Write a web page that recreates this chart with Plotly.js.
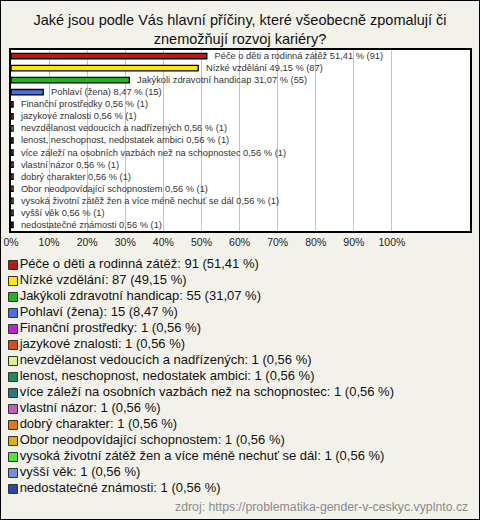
<!DOCTYPE html>
<html>
<head>
<meta charset="utf-8">
<script src="https://cdn.plot.ly/plotly-3.0.1.min.js"></script>
<style>
  html, body { margin: 0; padding: 0; background: #f3f2ea; }
  #wrap { width: 480px; height: 520px; box-sizing: border-box; border: 1px solid #000; background: #f3f2ea; }
  #chart { width: 478px; height: 518px; }
</style>
</head>
<body>
<div id="wrap"><div id="chart"></div></div>
<script>
const categories = [
  "Péče o děti a rodinná zátěž",
  "Nízké vzdělání",
  "Jakýkoli zdravotní handicap",
  "Pohlaví (žena)",
  "Finanční prostředky",
  "jazykové znalosti",
  "nevzdělanost vedoucích a nadřízených",
  "lenost, neschopnost, nedostatek ambici",
  "více záleží na osobních vazbách než na schopnostec",
  "vlastní názor",
  "dobrý charakter",
  "Obor neodpovídající schopnostem",
  "vysoká životní zátěž žen a více méně nechuť se dál",
  "vyšší věk",
  "nedostatečné známosti"
];
const counts = [91, 87, 55, 15, 1, 1, 1, 1, 1, 1, 1, 1, 1, 1, 1];
const percents = [51.41, 49.15, 31.07, 8.47, 0.56, 0.56, 0.56, 0.56, 0.56, 0.56, 0.56, 0.56, 0.56, 0.56, 0.56];
const colors = [
  "#c0180c", "#ffe500", "#1fb51f", "#4a70e8", "#c21fd0", "#e04a10", "#d4f58a",
  "#1f8a5a", "#1f7a8c", "#c25ec2", "#e8780a", "#e0b00a", "#4ee83a", "#6a94e0", "#2a48a8"
];
const tickValues = [0, 10, 20, 30, 40, 50, 60, 70, 80, 90, 100];
const tickLabels = ["0%", "10%", "20%", "30%", "40%", "50%", "60%", "70%", "80%", "90%", "100%"];
const titleText = "Jaké jsou podle Vás hlavní příčiny, které všeobecně zpomalují či<br>znemožňují rozvoj kariéry?";
const sourceText = "zdroj: https://problematika-gender-v-ceskyc.vyplnto.cz";

const fmt = v => v.toFixed(2).replace('.', ',');
const barLabels = categories.map((c, i) => '   ' + c + ' ' + fmt(percents[i]) + ' % (' + counts[i] + ')');
const legendLabels = categories.map((c, i) => c + ': ' + counts[i] + ' (' + fmt(percents[i]) + ' %)');

const font = "Liberation Sans, Arial, sans-serif";

const barTrace = {
  type: 'bar', orientation: 'h',
  x: percents, y: categories,
  xaxis: 'x', yaxis: 'y',
  width: 0.45,
  marker: { color: colors, line: { color: '#000', width: 1.3 } },
  text: barLabels,
  textposition: 'outside',
  constraintext: 'none',
  cliponaxis: false,
  textfont: { family: font, size: 9.3, color: '#333' },
  hoverinfo: 'none'
};

const legendTrace = {
  type: 'scatter', mode: 'markers+text',
  x: categories.map(() => 0), y: categories,
  xaxis: 'x2', yaxis: 'y2',
  marker: { symbol: 'square', size: 9, color: colors, line: { color: '#333', width: 1 } },
  text: legendLabels,
  textposition: 'middle right',
  textfont: { family: font, size: 13, color: '#111' },
  cliponaxis: false,
  hoverinfo: 'none'
};

const layout = {
  width: 478, height: 518,
  margin: { l: 10, r: 9, t: 49, b: 10 },
  paper_bgcolor: '#f3f2ea',
  plot_bgcolor: 'rgba(0,0,0,0)',
  showlegend: false,
  font: { family: font, color: '#222' },
  title: {
    text: titleText,
    font: { family: font, size: 14.5, color: '#111' },
    xref: 'container', x: 0.5, xanchor: 'center',
    yref: 'container', y: 1 - 24 / 518, yanchor: 'top'
  },
  xaxis: {
    domain: [0, 1], range: [0, 120.5],
    tickvals: tickValues, ticktext: tickLabels,
    showgrid: true, gridcolor: '#c4c4c4', gridwidth: 1,
    zeroline: false,
    showline: true, linecolor: '#000', linewidth: 2, mirror: true,
    ticks: '', tickfont: { family: font, size: 10.5, color: '#222' },
    fixedrange: true
  },
  yaxis: {
    domain: [0.6057, 1], type: 'category',
    range: [categories.length - 0.5, -0.5],
    showticklabels: false, showgrid: false, zeroline: false,
    showline: true, linecolor: '#000', linewidth: 2, mirror: true,
    ticks: '', fixedrange: true
  },
  xaxis2: { domain: [0, 1], range: [-2, 457], visible: false, anchor: 'y2' },
  yaxis2: {
    domain: [0.0261, 0.549], type: 'category', anchor: 'x2',
    range: [categories.length - 0.5, -0.5], visible: false
  },
  shapes: [{
    type: 'rect', xref: 'x domain', yref: 'y domain',
    x0: 0, x1: 1, y0: 0, y1: 1,
    fillcolor: '#ffffff', line: { width: 0 }, layer: 'below'
  }],
  annotations: [{
    text: sourceText, xref: 'paper', yref: 'paper',
    x: 1, y: 0.004, xanchor: 'right', yanchor: 'middle',
    showarrow: false, font: { family: font, size: 12.3, color: '#8a8a8a' }
  }]
};

Plotly.newPlot('chart', [barTrace, legendTrace], layout, { displayModeBar: false, staticPlot: true });
</script>
</body>
</html>
